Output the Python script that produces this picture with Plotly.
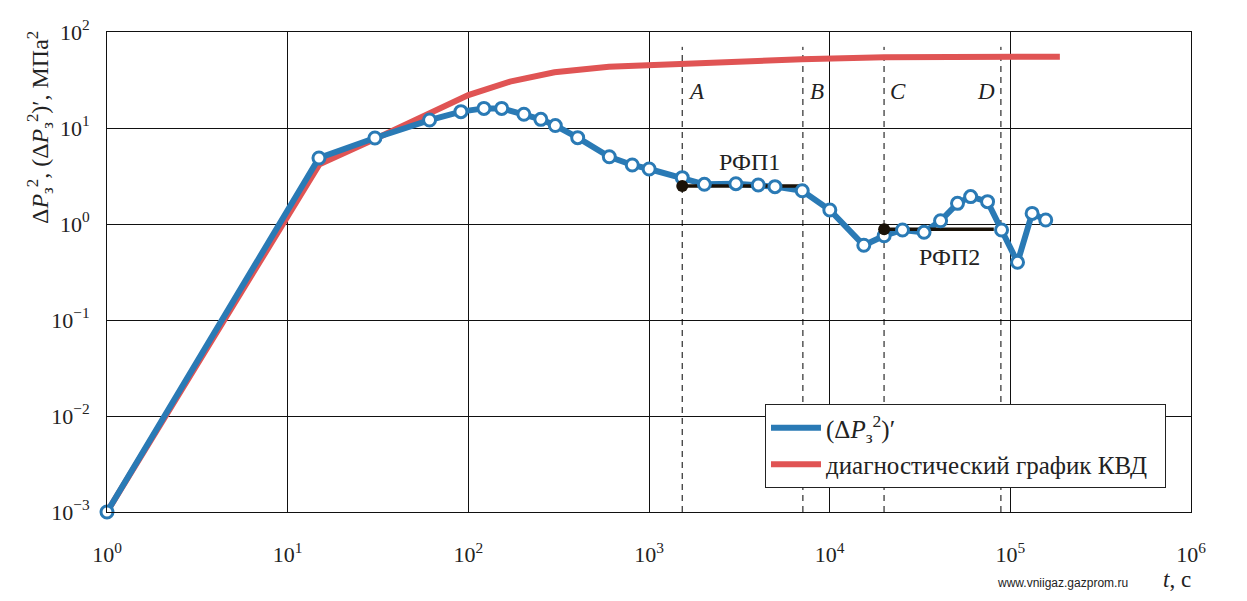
import numpy as np
import plotly.graph_objects as go

# ---- data ----
t_blue = [1, 14.9, 30.4, 61, 91, 122, 153, 203, 252, 303, 403, 603, 808, 1002,
          1528, 2025, 3027, 4025, 4980, 7050, 10020, 15450, 20030, 25300, 33300,
          41100, 51000, 60300, 74800, 89400, 109600, 132000, 157000]
y_blue = [0.001, 4.87, 7.87, 12.1, 14.8, 16.0, 16.0, 13.9, 12.3, 10.6, 7.93, 5.02,
          4.12, 3.74, 3.04, 2.59, 2.63, 2.55, 2.45, 2.22, 1.40, 0.60, 0.755, 0.866,
          0.819, 1.08, 1.64, 1.93, 1.71, 0.866, 0.399, 1.29, 1.10]

t_red = [1, 15, 30, 60, 100, 170, 300, 600, 1100, 1500, 7000, 20000, 89000, 188000]
y_red = [0.001, 4.2, 7.6, 14.0, 22.0, 30.4, 38.0, 43.5, 45.3, 47.8, 52.0, 54.5, 55.2, 55.3]

# flow-regime segments (РФП)
rfp1_t = [1528, 7360]
rfp1_y = [2.49, 2.49]
rfp2_t = [20030, 81000]
rfp2_y = [0.88, 0.88]

# event markers A-D
event_t = [1527, 7110, 20000, 88700]
event_names = ["A", "B", "C", "D"]
event_ymin, event_ymax = 0.001, 70

x_tickvals = [1, 10, 100, 1000, 1e4, 1e5, 1e6]
x_ticktext = ["10<sup>0</sup>", "10<sup>1</sup>", "10<sup>2</sup>", "10<sup>3</sup>",
              "10<sup>4</sup>", "10<sup>5</sup>", "10<sup>6</sup>"]
y_tickvals = [1e-3, 1e-2, 1e-1, 1, 10, 100]
y_ticktext = ["10<sup>−3</sup>", "10<sup>−2</sup>", "10<sup>−1</sup>", "10<sup>0</sup>",
              "10<sup>1</sup>", "10<sup>2</sup>"]

BLUE = "#2a7ab5"
RED = "#e05454"
FONT = "Liberation Serif, serif"
TXT = "#222"

fig = go.Figure()

# dashed event lines
for tt in event_t:
    fig.add_trace(go.Scatter(x=[tt, tt], y=[event_ymin, event_ymax], mode="lines",
                             line=dict(color="black", width=1, dash="6px,5px"),
                             showlegend=False, hoverinfo="skip"))

fig.add_trace(go.Scatter(x=t_red, y=y_red, mode="lines",
                         line=dict(color=RED, width=6), showlegend=False))
fig.add_trace(go.Scatter(x=t_blue, y=y_blue, mode="lines",
                         line=dict(color=BLUE, width=6), showlegend=False))

# regime segments
for tx, ty in [(rfp1_t, rfp1_y), (rfp2_t, rfp2_y)]:
    fig.add_trace(go.Scatter(x=tx, y=ty, mode="lines", line=dict(color="#1a1208", width=3.5),
                             showlegend=False))

fig.add_trace(go.Scatter(x=t_blue, y=y_blue, mode="markers",
                         marker=dict(size=12, color="white", line=dict(color=BLUE, width=3)),
                         showlegend=False, cliponaxis=False))

for tx, ty in [(rfp1_t, rfp1_y), (rfp2_t, rfp2_y)]:
    fig.add_trace(go.Scatter(x=[tx[0]], y=[ty[0]], mode="markers",
                             marker=dict(size=12, color="#1a1208"), showlegend=False))

# legend entries
fig.add_trace(go.Scatter(x=[None], y=[None], mode="lines", line=dict(color=BLUE, width=6),
                         name="(Δ<i>P</i><sub>з</sub><sup>2</sup>)′", legendgroup="a"))
fig.add_trace(go.Scatter(x=[None], y=[None], mode="lines", line=dict(color=RED, width=6),
                         name="диагностический график КВД\u00a0\u00a0", legendgroup="b"))

annotations = []
for tt, nm in zip(event_t, event_names):
    xoff = 14 if nm != "D" else -15
    annotations.append(dict(x=np.log10(tt), y=np.log10(24), xref="x", yref="y",
                            text=f"<i>{nm}</i>", showarrow=False, xshift=xoff,
                            font=dict(family=FONT, size=23, color=TXT)))
annotations.append(dict(x=np.log10(3616), y=np.log10(4.43), xref="x", yref="y",
                        text="РФП1", showarrow=False, font=dict(family=FONT, size=24, color=TXT)))
annotations.append(dict(x=np.log10(46300), y=np.log10(0.457), xref="x", yref="y",
                        text="РФП2", showarrow=False, font=dict(family=FONT, size=24, color=TXT)))
annotations.append(dict(x=(40 - 107) / 1084, y=(512 - 128) / 480, xref="paper", yref="paper",
                        textangle=-90, xanchor="center", yanchor="middle",
                        text="Δ<i>P</i><sub>з</sub><sup>2</sup>, (Δ<i>P</i><sub>з</sub><sup>2</sup>)′, МПа<sup>2</sup>",
                        showarrow=False, font=dict(family=FONT, size=24, color=TXT)))
annotations.append(dict(x=(1177 - 107) / 1084, y=(512 - 579) / 480, xref="paper", yref="paper",
                        xanchor="center", yanchor="middle", text="<i>t</i>, c",
                        showarrow=False, font=dict(family=FONT, size=23, color=TXT)))
annotations.append(dict(x=(1062 - 107) / 1084, y=(512 - 583) / 480, xref="paper", yref="paper",
                        xanchor="center", yanchor="middle",
                        text="www.vniigaz.gazprom.ru", showarrow=False,
                        font=dict(family="Liberation Sans, Arial, sans-serif", size=12, color=TXT)))

fig.update_layout(
    width=1247, height=601,
    margin=dict(l=107, r=56, t=32, b=89),
    plot_bgcolor="white", paper_bgcolor="white",
    font=dict(family=FONT, size=22, color=TXT),
    annotations=annotations,
    legend=dict(x=(765 - 107) / 1084, y=(512 - 404) / 480, xanchor="left", yanchor="top",
                bordercolor="#222", borderwidth=1, bgcolor="white",
                font=dict(family=FONT, size=25, color=TXT),
                itemwidth=50, tracegroupgap=1),
)
fig.update_xaxes(type="log", range=[0, 6], tickvals=x_tickvals, ticktext=x_ticktext,
                 showgrid=True, gridcolor="#111", gridwidth=1,
                 showline=True, linecolor="#111", linewidth=1, mirror=True,
                 ticks="", ticklabelstandoff=23, zeroline=False,
                 tickfont=dict(family=FONT, size=22, color=TXT))
fig.update_yaxes(type="log", range=[-3, 2], tickvals=y_tickvals, ticktext=y_ticktext,
                 showgrid=True, gridcolor="#111", gridwidth=1,
                 showline=True, linecolor="#111", linewidth=1, mirror=True,
                 ticks="", ticklabelstandoff=12, zeroline=False,
                 tickfont=dict(family=FONT, size=22, color=TXT))

fig.write_html("out.html")
